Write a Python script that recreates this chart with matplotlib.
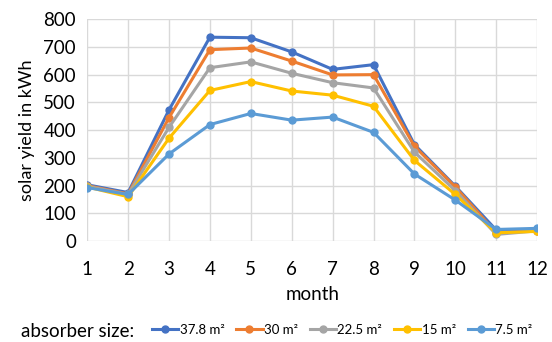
import numpy as np
import matplotlib.pyplot as plt

plt.rcParams['font.family'] = ['Lato', 'DejaVu Sans']

months = [1, 2, 3, 4, 5, 6, 7, 8, 9, 10, 11, 12]
labels = ['37.8 m²', '30 m²', '22.5 m²', '15 m²', '7.5 m²']
colors = ['#4472C4', '#ED7D31', '#A5A5A5', '#FFC000', '#5B9BD5']

y_378 = [203, 175, 473, 735, 733, 682, 619, 636, 348, 198, 40, 42]
y_30 = [200, 170, 445, 690, 696, 649, 599, 600, 342, 195, 30, 38]
y_225 = [198, 168, 410, 625, 646, 605, 571, 552, 321, 182, 24, 37]
y_15 = [195, 160, 371, 543, 575, 541, 526, 486, 291, 168, 30, 35]
y_75 = [193, 168, 314, 420, 460, 436, 447, 392, 242, 148, 42, 46]
series = [y_378, y_30, y_225, y_15, y_75]

fig = plt.figure(figsize=(5.52, 3.42), dpi=100)
ax = fig.add_axes([0.158, 0.295, 0.815, 0.649])

for vals, lab, col in zip(series, labels, colors):
    ax.plot(months, vals, color=col, lw=2.2, marker='o', ms=5, label=lab)

ax.set_xlim(1, 12)
ax.set_ylim(0, 800)
ax.set_xticks(months)
ax.set_yticks(np.arange(0, 801, 100))
ax.grid(True, color='#D9D9D9', lw=1)
ax.set_axisbelow(True)
for s in ax.spines.values():
    s.set_visible(False)
ax.tick_params(length=0, labelsize=13.5, colors='black')
ax.tick_params(axis='x', pad=14)
ax.tick_params(axis='y', pad=8)
ax.set_xlabel('month', fontsize=13.5, labelpad=6)
ax.set_ylabel('solar yield in kWh', fontsize=13, labelpad=6)

fig.text(0.038, 0.032, 'absorber size:', fontsize=13.5, va='center')
fig.legend(loc='center left', bbox_to_anchor=(0.275, 0.035), ncol=5, frameon=False,
           fontsize=9.5, handlelength=2.0, handletextpad=0.1, columnspacing=0.9,
           borderaxespad=0, borderpad=0)

fig.savefig('out.png', dpi=100)
